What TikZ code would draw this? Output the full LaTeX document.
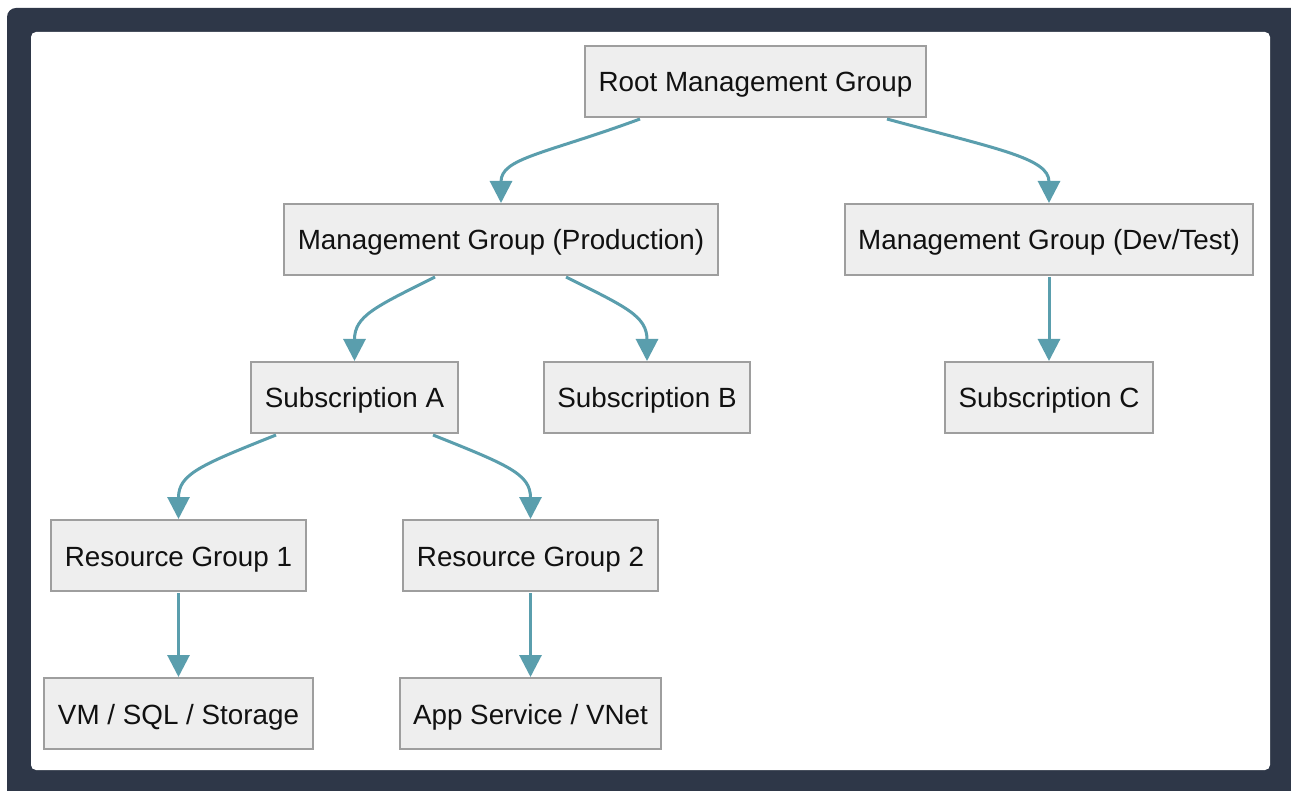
\documentclass[tikz,border=0pt]{standalone}
\usepackage{fontspec}
\setmainfont{Liberation Sans}
\usetikzlibrary{arrows.meta}
\definecolor{frame}{HTML}{2E3748}
\definecolor{boxfill}{HTML}{EEEEEE}
\definecolor{boxline}{HTML}{9E9E9E}
\definecolor{edge}{HTML}{5A9EAD}
\definecolor{txt}{HTML}{111111}
\tikzset{
  box/.style={draw=boxline, line width=2pt, fill=boxfill, rectangle,
    minimum height=71pt, inner xsep=13.5pt, inner ysep=0pt, text=txt,
    text height=21pt, text depth=0pt,
    font=\fontsize{27.8pt}{32pt}\selectfont, anchor=center},
  conn/.style={draw=edge, line width=3pt, -{Triangle[width=22pt,length=22pt]}}
}
\begin{document}
\begin{tikzpicture}[x=1pt,y=-1pt]
\useasboundingbox (0,0) rectangle (1291,791);
\fill[frame, rounded corners=9pt] (7,8) rectangle (1310,810);
\fill[white, rounded corners=5pt] (31,32) rectangle (1270,770);

\node[box] (root) at (755.5,81.5) {Root Management Group};
\node[box] (prod) at (501,239.5) {Management Group (Production)};
\node[box] (dev) at (1049,239.5) {Management Group (Dev/Test)};
\node[box] (suba) at (354.5,397.5) {Subscription A};
\node[box] (subb) at (647,397.5) {Subscription B};
\node[box] (subc) at (1049,397.5) {Subscription C};
\node[box] (rg1) at (178.5,555.5) {Resource Group 1};
\node[box] (rg2) at (530.5,555.5) {Resource Group 2};
\node[box] (vm) at (178.5,713.5) {VM / SQL / Storage};
\node[box] (app) at (530.5,713.5) {App Service / VNet};

\draw[conn] ([xshift=-115.5pt,yshift=-1pt]root.south) .. controls +(-95,35) and +(0,-45) .. (prod.north);
\draw[conn] ([xshift=131.5pt,yshift=-1pt]root.south) .. controls +(110,30) and +(0,-45) .. (dev.north);
\draw[conn] ([xshift=-66pt,yshift=-1pt]prod.south) .. controls +(-60,30) and +(0,-45) .. (suba.north);
\draw[conn] ([xshift=65pt,yshift=-1pt]prod.south) .. controls +(60,30) and +(0,-45) .. (subb.north);
\draw[conn] ([yshift=-1pt]dev.south) -- (subc.north);
\draw[conn] ([xshift=-78.5pt,yshift=-1pt]suba.south) .. controls +(-75,30) and +(0,-45) .. (rg1.north);
\draw[conn] ([xshift=78.5pt,yshift=-1pt]suba.south) .. controls +(75,30) and +(0,-45) .. (rg2.north);
\draw[conn] ([yshift=-1pt]rg1.south) -- (vm.north);
\draw[conn] ([yshift=-1pt]rg2.south) -- (app.north);
\end{tikzpicture}
\end{document}
